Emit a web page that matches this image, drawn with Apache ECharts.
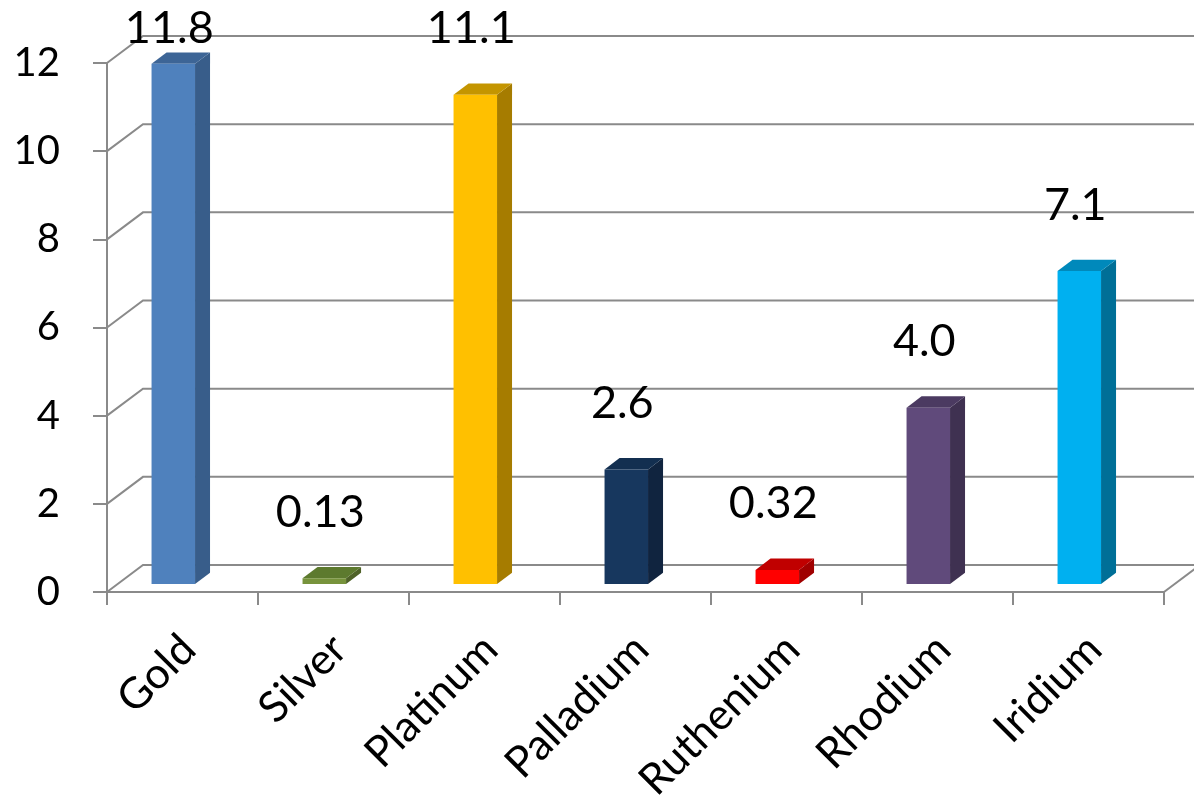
<!DOCTYPE html>
<html>
<head>
<meta charset="utf-8">
<script src="https://cdn.jsdelivr.net/npm/echarts@6/dist/echarts.min.js"></script>
<style>
  html, body { margin: 0; padding: 0; background: #ffffff; }
  #chart { width: 1194px; height: 805px; }
</style>
</head>
<body>
<div id="chart"></div>
<script>
// Precious metals, one 3D column per metal
const metals = ['Gold', 'Silver', 'Platinum', 'Palladium', 'Ruthenium', 'Rhodium', 'Iridium'];
const values = [11.8, 0.13, 11.1, 2.6, 0.32, 4.0, 7.1];
const yTicks = [0, 2, 4, 6, 8, 10, 12];

// Column colours: front face, top face, right side face
const faceColors = ['#4F81BD', '#77933C', '#FFC000', '#17375E', '#FF0000', '#604A7B', '#00B0F0'];
const topColors  = ['#3D6596', '#5D7A2E', '#C49500', '#132F50', '#C00000', '#4B3A61', '#0089BB'];
const sideColors = ['#385D8A', '#4F6228', '#A67C00', '#10243F', '#A00000', '#3F3151', '#006F97'];

// Oblique projection of the chart box
const WALL_DX = 36, WALL_DY = -27;   // depth of the floor / back wall
const BAR_LIFT = -8;                 // columns stand a little inside the floor
const BAR_DX = 15, BAR_DY = -11.3;   // depth of each column
const GRID_COLOR = '#8a8a8a';
const FONT = 'Lato, "Open Sans", sans-serif';

function formatValue(v) {
  return v < 1 ? v.toFixed(2) : v.toFixed(1);
}

const chart = echarts.init(document.getElementById('chart'), null, { renderer: 'canvas' });

chart.setOption({
  animation: false,
  backgroundColor: '#ffffff',
  grid: [
    { left: 107, right: 30, top: 63, bottom: 213 },
    { left: 113, right: 24, top: 63, bottom: 213 }
  ],
  xAxis: [
    {
      type: 'category', gridIndex: 0, data: metals,
      axisLine: { show: true, lineStyle: { color: GRID_COLOR, width: 2 } },
      axisTick: { show: true, length: 13, lineStyle: { color: GRID_COLOR, width: 2 } },
      axisLabel: { show: false }
    },
    {
      type: 'category', gridIndex: 1, data: metals,
      axisLine: { show: false }, axisTick: { show: false },
      axisLabel: {
        rotate: 45, margin: 56, interval: 0,
        fontFamily: FONT, fontSize: 43, color: '#000000'
      }
    }
  ],
  yAxis: [
    {
      type: 'value', gridIndex: 0, min: 0, max: 12, interval: 2,
      axisLine: { show: true, lineStyle: { color: GRID_COLOR, width: 2 } },
      axisTick: { show: true, length: 14, lineStyle: { color: GRID_COLOR, width: 2 } },
      splitLine: { show: false },
      axisLabel: { margin: 47, fontFamily: FONT, fontSize: 40, color: '#000000' }
    },
    { type: 'value', gridIndex: 1, min: 0, max: 12, show: false }
  ],
  series: [
    {
      // back wall gridlines with their diagonals across the side wall
      type: 'custom',
      coordinateSystem: 'cartesian2d',
      xAxisIndex: 0, yAxisIndex: 0,
      silent: true, z: 1,
      data: yTicks.map(v => [0, v]),
      renderItem(params, api) {
        const cs = params.coordSys;
        const v = api.value(1);
        const y = api.coord([0, v])[1];
        const x0 = cs.x, x1 = cs.x + cs.width;
        const children = [{
          type: 'polyline',
          shape: { points: [[x0, y], [x0 + WALL_DX, y + WALL_DY], [x1 + WALL_DX, y + WALL_DY]] },
          style: { stroke: GRID_COLOR, lineWidth: 2, fill: null }
        }];
        if (v === 0) {
          children.push({
            type: 'line',
            shape: { x1: x1, y1: y, x2: x1 + WALL_DX, y2: y + WALL_DY },
            style: { stroke: GRID_COLOR, lineWidth: 2 }
          });
        }
        return { type: 'group', children };
      }
    },
    {
      // the 3D columns with their value labels
      type: 'custom',
      coordinateSystem: 'cartesian2d',
      xAxisIndex: 0, yAxisIndex: 0,
      z: 3,
      data: values.map((v, i) => [i, v]),
      renderItem(params, api) {
        const i = api.value(0);
        const v = api.value(1);
        const base = api.coord([i, 0]);
        const top = api.coord([i, v]);
        const band = api.size([1, 0])[0];
        const xl = base[0] - 0.205 * band;
        const xr = xl + 0.288 * band;
        const yb = base[1] + BAR_LIFT;
        const yt = top[1] + BAR_LIFT;
        const labelY = Math.max(yt - 66, 28);
        return {
          type: 'group',
          children: [
            {
              type: 'polygon',
              shape: { points: [[xr, yt], [xr + BAR_DX, yt + BAR_DY], [xr + BAR_DX, yb + BAR_DY], [xr, yb]] },
              style: { fill: sideColors[i] }
            },
            {
              type: 'polygon',
              shape: { points: [[xl, yt], [xr, yt], [xr + BAR_DX, yt + BAR_DY], [xl + BAR_DX, yt + BAR_DY]] },
              style: { fill: topColors[i] }
            },
            {
              type: 'rect',
              shape: { x: xl, y: yt, width: xr - xl, height: yb - yt },
              style: { fill: faceColors[i] }
            },
            {
              type: 'text',
              x: (xl + xr) / 2 - 4, y: labelY,
              style: {
                text: formatValue(v),
                font: '45px ' + FONT,
                fill: '#000000',
                align: 'center',
                verticalAlign: 'middle'
              }
            }
          ]
        };
      }
    }
  ]
});
</script>
</body>
</html>
